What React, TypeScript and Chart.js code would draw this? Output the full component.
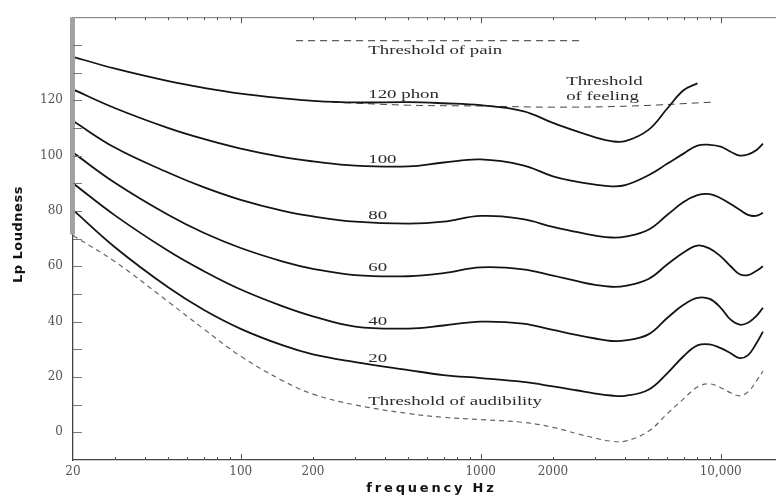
import React, { useEffect, useRef } from 'react';
import { Chart, registerables } from 'chart.js';

Chart.register(...registerables);

// ---------- data ----------
const FREQ = [20, 30, 50, 70, 100, 150, 200, 300, 500, 700, 1000, 1500, 2000, 2500, 3000, 3500, 4000, 5000, 6000, 7000, 8000, 9000, 10000, 11000, 12000, 13000, 14000, 15000];

const PHON_120 = [135.7, 131.4, 126.9, 124.5, 122.4, 120.7, 119.8, 119.2, 119.3, 118.9, 118.2, 116.1, 111.8, 108.8, 106.6, 105.2, 105.2, 109.3, 117.1, 123.6, 126.1];
const PHON_100 = [123.9, 117.1, 109.9, 106.0, 102.5, 99.4, 97.9, 96.4, 96.1, 97.5, 98.6, 96.5, 92.5, 90.6, 89.5, 88.9, 89.3, 92.9, 97.1, 100.7, 103.6, 103.9, 103.2, 101.4, 100.0, 100.4, 101.8, 104.3];
const PHON_80 = [112.5, 102.8, 93.8, 88.6, 84.0, 80.0, 78.0, 76.1, 75.4, 76.1, 78.2, 77.0, 74.2, 72.4, 71.1, 70.4, 70.7, 73.2, 78.6, 83.2, 85.7, 86.1, 84.6, 82.5, 80.4, 78.6, 78.2, 79.3];
const PHON_60 = [101.1, 90.1, 78.5, 72.1, 66.6, 61.7, 59.1, 56.8, 56.4, 57.5, 59.6, 58.9, 56.6, 54.7, 53.3, 52.6, 52.9, 55.4, 60.7, 65.0, 67.5, 66.4, 63.6, 60.0, 57.1, 56.8, 58.2, 60.0];
const PHON_40 = [90.0, 78.3, 65.5, 58.3, 51.6, 45.5, 41.9, 38.2, 37.5, 38.6, 40.0, 39.3, 37.0, 35.2, 33.9, 33.0, 33.2, 35.4, 41.4, 46.1, 48.6, 48.2, 45.0, 40.7, 38.9, 39.6, 41.8, 45.0];
const PHON_20 = [80.4, 66.8, 52.3, 44.3, 37.4, 31.4, 28.2, 25.4, 22.5, 20.7, 19.6, 18.2, 16.6, 15.2, 14.0, 13.3, 13.2, 15.4, 21.4, 27.5, 31.4, 31.8, 30.4, 28.6, 26.8, 27.9, 31.8, 36.4];
const AUDIBILITY = [71.1, 61.6, 47.1, 37.4, 27.5, 18.6, 13.8, 9.9, 6.8, 5.4, 4.6, 3.6, 1.8, -0.4, -2.1, -3.2, -3.2, 0.4, 6.8, 12.1, 16.4, 17.5, 16.1, 14.3, 13.2, 14.6, 18.2, 22.1];

const PAIN_FREQ = [170, 2570];
const PAIN_DB = [141.5, 141.5];

const FEEL_FREQ = [240, 500, 1000, 2000, 4200, 9200];
const FEEL_DB = [119.3, 118.2, 117.9, 117.5, 117.9, 119.3];

const X_TICK_VALUES = [20, 100, 200, 1000, 2000, 10000];
const X_TICK_LABELS = ['20', '100', '200', '1000', '2000', '10,000'];
const X_MINOR_TICKS = [30, 40, 50, 60, 70, 80, 90, 200, 300, 400, 500, 600, 700, 800, 900, 2000, 3000, 4000, 5000, 6000, 7000, 8000, 9000];
const X_MAJOR_TICKS = [100, 1000, 10000];
const Y_TICK_VALUES = [0, 20, 40, 60, 80, 100, 120];
const Y_MARK_VALUES = [0, 10, 20, 30, 40, 50, 60, 70, 80, 90, 100, 110, 120, 130, 140];

const ANNOT_TEXT = ['Threshold of pain', '120 phon', 'Threshold', 'of feeling', '100', '80', '60', '40', '20', 'Threshold of audibility'];
const ANNOT_FREQ = [340, 340, 2270, 2270, 340, 340, 340, 340, 340, 340];
const ANNOT_DB = [137.9, 121.8, 126.6, 121.3, 98.6, 78.2, 59.3, 40.0, 26.4, 11.1];

const X_TITLE = 'frequency Hz';
const Y_TITLE = 'Lp Loudness';

const pts = (fs: number[], vs: number[]) => vs.map((v, i) => ({ x: fs[i], y: v }));

const solid = (label: string, vs: number[]) => ({
  label,
  data: pts(FREQ, vs),
  borderColor: '#141414',
  borderWidth: 1.8,
  pointRadius: 0,
  fill: false,
  tension: 0.4,
});

const decorPlugin = {
  id: 'decor',
  afterDraw(chart: any) {
    const { ctx, chartArea, scales } = chart;
    const xs = scales.x;
    const ys = scales.y;
    ctx.save();
    // top border
    ctx.strokeStyle = '#777';
    ctx.lineWidth = 1;
    ctx.beginPath();
    ctx.moveTo(chartArea.left, chartArea.top + 0.5);
    ctx.lineTo(chartArea.right, chartArea.top + 0.5);
    ctx.stroke();
    // x tick marks (inward, bottom & top)
    ctx.strokeStyle = '#555';
    const drawX = (v: number, len: number) => {
      const px = Math.round(xs.getPixelForValue(v)) + 0.5;
      ctx.beginPath();
      ctx.moveTo(px, chartArea.bottom);
      ctx.lineTo(px, chartArea.bottom - len);
      ctx.moveTo(px, chartArea.top);
      ctx.lineTo(px, chartArea.top + len);
      ctx.stroke();
    };
    X_MINOR_TICKS.forEach((v) => drawX(v, 3));
    X_MAJOR_TICKS.forEach((v) => drawX(v, 6));
    // gray band on left axis
    ctx.fillStyle = '#a2a2a2';
    const bandBottom = ys.getPixelForValue(71.5);
    ctx.fillRect(chartArea.left - 3, chartArea.top, 5, bandBottom - chartArea.top);
    // y tick marks (inward)
    ctx.strokeStyle = '#777';
    Y_MARK_VALUES.forEach((v) => {
      const py = Math.round(ys.getPixelForValue(v)) + 0.5;
      ctx.beginPath();
      ctx.moveTo(chartArea.left, py);
      ctx.lineTo(chartArea.left + 9, py);
      ctx.stroke();
    });
    // annotations
    ctx.fillStyle = '#2a2a2a';
    ctx.font = '12px "Liberation Serif"';
    ctx.textBaseline = 'middle';
    ctx.textAlign = 'left';
    ANNOT_TEXT.forEach((t, i) => {
      const px = xs.getPixelForValue(ANNOT_FREQ[i]);
      const py = ys.getPixelForValue(ANNOT_DB[i]);
      ctx.save();
      ctx.translate(px, py);
      ctx.scale(1.57, 1);
      ctx.fillText(t, 0, 0);
      ctx.restore();
    });
    // axis titles
    ctx.fillStyle = '#111';
    ctx.font = 'bold 13px "DejaVu Sans"';
    ctx.textAlign = 'center';
    ctx.textBaseline = 'middle';
    (ctx as any).letterSpacing = '2.8px';
    ctx.fillText(X_TITLE, (chartArea.left + chartArea.right) / 2 + 7, 489);
    (ctx as any).letterSpacing = '0.5px';
    ctx.save();
    ctx.translate(19, (chartArea.top + chartArea.bottom) / 2 - 4);
    ctx.rotate(-Math.PI / 2);
    ctx.fillText(Y_TITLE, 0, 0);
    ctx.restore();
    (ctx as any).letterSpacing = '0px';
    ctx.restore();
  },
};

export default function App() {
  const ref = useRef<HTMLCanvasElement>(null);
  useEffect(() => {
    if (!ref.current) return;
    const chart = new Chart(ref.current, {
      type: 'line',
      data: {
        datasets: [
          solid('120 phon', PHON_120),
          solid('100', PHON_100),
          solid('80', PHON_80),
          solid('60', PHON_60),
          solid('40', PHON_40),
          solid('20', PHON_20),
          {
            label: 'Threshold of audibility',
            data: pts(FREQ, AUDIBILITY),
            borderColor: '#666',
            borderWidth: 1.2,
            borderDash: [5, 4],
            pointRadius: 0,
            fill: false,
            tension: 0.4,
          },
          {
            label: 'Threshold of pain',
            data: pts(PAIN_FREQ, PAIN_DB),
            borderColor: '#333',
            borderWidth: 1,
            borderDash: [7, 5],
            pointRadius: 0,
            fill: false,
          },
          {
            label: 'Threshold of feeling',
            data: pts(FEEL_FREQ, FEEL_DB),
            borderColor: '#444',
            borderWidth: 1,
            borderDash: [7, 5],
            pointRadius: 0,
            fill: false,
            tension: 0.4,
          },
        ] as any,
      },
      options: {
        responsive: false,
        animation: false,
        devicePixelRatio: 1,
        layout: { padding: { top: 13, left: 0, right: 0, bottom: 0 } },
        plugins: { legend: { display: false }, tooltip: { enabled: false }, title: { display: false } },
        scales: {
          x: {
            type: 'logarithmic',
            min: 20,
            max: 17000,
            afterBuildTicks: (s: any) => {
              s.ticks = X_TICK_VALUES.map((v) => ({ value: v }));
            },
            afterFit: (s: any) => {
              s.height = 41;
            },
            ticks: {
              autoSkip: false,
              maxRotation: 0,
              minRotation: 0,
              padding: 5,
              color: '#555',
              font: { family: '"DejaVu Serif"', size: 12 },
              callback: (_v: any, i: number) => X_TICK_LABELS[i],
            },
            grid: { display: false, drawTicks: false },
            border: { display: true, color: '#444', width: 1.3 },
          },
          y: {
            type: 'linear',
            min: -10,
            max: 150,
            afterBuildTicks: (s: any) => {
              s.ticks = Y_TICK_VALUES.map((v) => ({ value: v }));
            },
            afterFit: (s: any) => {
              s.width = 73;
            },
            ticks: {
              padding: 10,
              color: '#555',
              font: { family: '"DejaVu Serif"', size: 12 },
              callback: (v: any) => String(v),
            },
            grid: { display: false, drawTicks: false },
            border: { display: true, color: '#444', width: 1.3 },
          },
        },
      } as any,
      plugins: [decorPlugin],
    });
    return () => chart.destroy();
  }, []);
  return (
    <div style={{ position: 'fixed', left: 0, top: 0, width: 776, height: 501, background: '#fff' }}>
      <canvas ref={ref} width={776} height={501} style={{ display: 'block', width: 776, height: 501 }} />
    </div>
  );
}
